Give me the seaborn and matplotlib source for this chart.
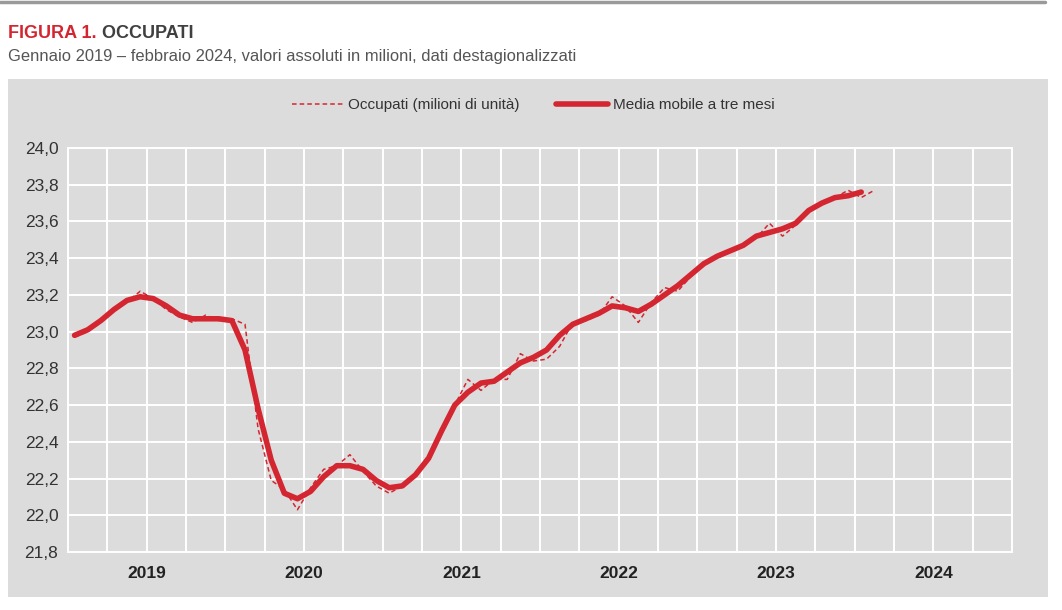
import pandas as pd
import matplotlib
matplotlib.use("Agg")
import matplotlib.pyplot as plt
import seaborn as sns
from matplotlib.patches import Rectangle
from matplotlib.ticker import FixedLocator, FuncFormatter

# Monthly data, Jan 2019 - Feb 2024 (millions)
occupati = [
    22.97, 23.00, 23.05, 23.12, 23.16, 23.22, 23.18, 23.12, 23.08, 23.05, 23.09, 23.06,  # 2019
    23.07, 23.04, 22.47, 22.19, 22.14, 22.03, 22.15, 22.25, 22.27, 22.33, 22.24, 22.16,  # 2020
    22.12, 22.16, 22.22, 22.33, 22.46, 22.60, 22.74, 22.68, 22.74, 22.74, 22.88, 22.84,  # 2021
    22.85, 22.92, 23.05, 23.06, 23.09, 23.19, 23.14, 23.05, 23.16, 23.24, 23.22, 23.30,  # 2022
    23.37, 23.40, 23.44, 23.47, 23.51, 23.59, 23.52, 23.58, 23.66, 23.70, 23.73, 23.77,  # 2023
    23.73, 23.77,                                                                        # 2024
]
# Three-month moving average, Jan 2019 - Jan 2024
media_mobile = [
    22.98, 23.01, 23.06, 23.12, 23.17, 23.19, 23.18, 23.14, 23.09, 23.07, 23.07, 23.07,
    23.06, 22.90, 22.58, 22.30, 22.12, 22.09, 22.13, 22.21, 22.27, 22.27, 22.25, 22.19,
    22.15, 22.16, 22.22, 22.31, 22.46, 22.60, 22.67, 22.72, 22.73, 22.78, 22.83, 22.86,
    22.90, 22.98, 23.04, 23.07, 23.10, 23.14, 23.13, 23.11, 23.15, 23.20, 23.25, 23.31,
    23.37, 23.41, 23.44, 23.47, 23.52, 23.54, 23.56, 23.59, 23.66, 23.70, 23.73, 23.74,
    23.76,
]
years = ["2019", "2020", "2021", "2022", "2023", "2024"]

df_occ = pd.DataFrame({"mese": [i + 0.5 for i in range(len(occupati))], "valore": occupati})
df_mm = pd.DataFrame({"mese": [i + 0.5 for i in range(len(media_mobile))], "valore": media_mobile})

RED = "#d42630"
GREY_BG = "#dcdcdc"
TXT = "#333333"

sns.set_style("white")
plt.rcParams["font.family"] = ["Liberation Sans", "DejaVu Sans"]

W, H = 1062, 610
fig = plt.figure(figsize=(W / 100, H / 100), dpi=100)

# top rule and grey panel
fig.add_artist(plt.Line2D([0, 1045 / W], [1 - 2 / H, 1 - 2 / H], color="#9a9a9a", lw=2.5))
fig.add_artist(Rectangle((8 / W, 1 - 597 / H), 1040 / W, 518 / H, transform=fig.transFigure,
                         facecolor=GREY_BG, edgecolor="none", zorder=0))

# title in two colours
t1 = fig.text(8 / W, 1 - 38 / H, "FIGURA 1.", color=RED, fontsize=13, fontweight="bold",
              va="baseline", ha="left")
fig.canvas.draw()
bb = t1.get_window_extent()
fig.text(bb.x1 / W, 1 - 38 / H, " OCCUPATI", color="#404040", fontsize=13,
         fontweight="bold", va="baseline", ha="left")
fig.text(8 / W, 1 - 61 / H,
         "Gennaio 2019 \u2013 febbraio 2024, valori assoluti in milioni, dati destagionalizzati",
         color="#555555", fontsize=11.9, va="baseline", ha="left")

ax = fig.add_axes([68 / W, 1 - 552 / H, 944 / W, 404 / H])
ax.set_facecolor(GREY_BG)

sns.lineplot(data=df_occ, x="mese", y="valore", ax=ax, color=RED, lw=1.1,
             linestyle=(0, (3, 2)), label="Occupati (milioni di unit\u00e0)")
sns.lineplot(data=df_mm, x="mese", y="valore", ax=ax, color=RED, lw=4.0,
             label="Media mobile a tre mesi", solid_capstyle="round")

ax.set_xlim(0, 72)
ax.set_ylim(21.8, 24.0)
ax.xaxis.remove_overlapping_locs = False
ax.xaxis.set_major_locator(FixedLocator(list(range(0, 73, 3))))
ax.xaxis.set_minor_locator(FixedLocator([6 + 12 * k for k in range(len(years))]))
ax.set_xticklabels([])
ax.set_xticklabels(years, minor=True)
ax.set_yticks([21.8 + 0.2 * k for k in range(12)])
ax.yaxis.set_major_formatter(FuncFormatter(lambda v, p: f"{v:.1f}".replace(".", ",")))
ax.grid(True, which="major", color="white", lw=1.4)
ax.set_axisbelow(True)
ax.tick_params(which="both", length=0)
ax.tick_params(axis="y", labelsize=12.5, labelcolor=TXT, pad=7)
ax.tick_params(axis="x", which="minor", labelsize=12.5, labelcolor="#222222", pad=10)
for lab in ax.get_xticklabels(minor=True):
    lab.set_fontweight("bold")
for s in ax.spines.values():
    s.set_color("white")
    s.set_linewidth(1.4)
ax.set_xlabel("")
ax.set_ylabel("")

ax.legend(loc="center", bbox_to_anchor=((533 - 68) / 944, 1 + 43 / 404), ncol=2, frameon=False,
          fontsize=11, handlelength=3.4, handletextpad=0.3, columnspacing=2.4,
          labelcolor="#333333")

fig.savefig("out.png", dpi=100)
